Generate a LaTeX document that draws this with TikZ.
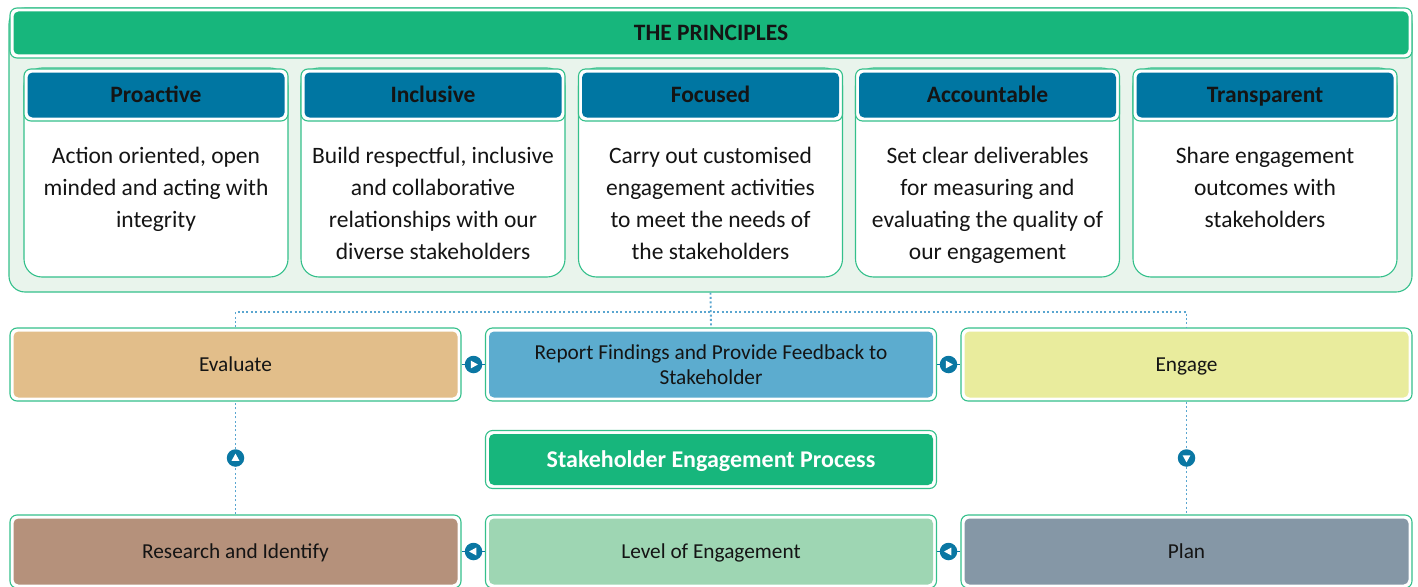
\documentclass[tikz,border=0pt]{standalone}
\usepackage{fontspec}
\setmainfont{Carlito}
\definecolor{edge}{HTML}{34C08B}
\definecolor{panelfill}{HTML}{E9F4EC}
\definecolor{headgreen}{HTML}{17B67C}
\definecolor{cardblue}{HTML}{0076A2}
\definecolor{markblue}{HTML}{0A77A3}
\definecolor{dotblue}{HTML}{5AA6D0}
\definecolor{evalfill}{HTML}{E2BE8A}
\definecolor{reportfill}{HTML}{5CACCF}
\definecolor{engagefill}{HTML}{E9EC9D}
\definecolor{researchfill}{HTML}{B5917B}
\definecolor{levelfill}{HTML}{9ED6B3}
\definecolor{planfill}{HTML}{8597A6}
\definecolor{ink}{HTML}{141414}
\begin{document}
\begin{tikzpicture}[x=1pt,y=-1pt,
  procbox/.style={draw=edge, line width=1.1pt, fill=white, rounded corners=7pt,
    inner sep=0pt, align=center, text=ink,
    path picture={\fill[#1, rounded corners=5pt]
      ([shift={(3.5pt,-3.5pt)}]path picture bounding box.north west) rectangle
      ([shift={(-3.5pt,3.5pt)}]path picture bounding box.south east);}},
  oneline/.style={text height=#1, text depth=0pt},
  card/.style={draw=edge, line width=1.1pt, fill=white, rounded corners=18pt,
    minimum width=264, minimum height=209, inner sep=0pt},
  cardhead/.style={procbox=cardblue, oneline=14.6pt, minimum width=264, minimum height=52,
    font=\bfseries\fontsize{23.5}{27}\selectfont},
  bodytext/.style={anchor=north, inner sep=0pt, align=center, text=ink,
    font=\fontsize{23.5}{32}\selectfont},
  rowbox/.style={procbox=#1, minimum width=451, minimum height=73,
    font=\fontsize{21.3}{25}\selectfont},
  flow/.style={circle, fill=markblue, minimum size=17.5pt, inner sep=0pt,
    path picture={\fill[white]
      ([shift={(#1:4.4pt)}]path picture bounding box.center) --
      ([shift={(#1+125:4.8pt)}]path picture bounding box.center) --
      ([shift={(#1-125:4.8pt)}]path picture bounding box.center) -- cycle;}},
  link/.style={draw=markblue, line width=0.8pt},
  dotlink/.style={draw=dotblue, line width=1.9pt, dash pattern=on 2pt off 2.4pt}]

\useasboundingbox (0,0) rectangle (1418,586);
\clip (0,0) rectangle (1418,586);

% principles panel with its title bar
\node (panel) [draw=edge, fill=panelfill, rounded corners=16pt, line width=1.1pt,
  minimum width=1403, minimum height=284, inner sep=0pt] at (710.5,150) {};
\node (title) [procbox=headgreen, oneline=14.6pt, minimum width=1402, minimum height=50,
  font=\bfseries\fontsize{23.5}{27}\selectfont] at (711,33) {THE PRINCIPLES};

% the five principle cards
\node (card1) [card] at (156,172.5) {};
\node (head1) [cardhead] at (156,95) {Proactive};
\node (body1) [bodytext] at (156,146.5) {Action oriented, open\\minded and acting with\\integrity};

\node (card2) [card] at (433,172.5) {};
\node (head2) [cardhead] at (433,95) {Inclusive};
\node (body2) [bodytext] at (433,146.5) {Build respectful, inclusive\\and collaborative\\relationships with our\\diverse stakeholders};

\node (card3) [card] at (710.5,172.5) {};
\node (head3) [cardhead] at (710.5,95) {Focused};
\node (body3) [bodytext] at (710.5,146.5) {Carry out customised\\engagement activities\\to meet the needs of\\the stakeholders};

\node (card4) [card] at (987.5,172.5) {};
\node (head4) [cardhead] at (987.5,95) {Accountable};
\node (body4) [bodytext] at (987.5,146.5) {Set clear deliverables\\for measuring and\\evaluating the quality of\\our engagement};

\node (card5) [card] at (1265,172.5) {};
\node (head5) [cardhead] at (1265,95) {Transparent};
\node (body5) [bodytext] at (1265,146.5) {Share engagement\\outcomes with\\stakeholders};

% process steps
\node (eval)     [rowbox=evalfill, oneline=13.4pt]     at (235.5,364.5) {Evaluate};
\node (report)   [rowbox=reportfill]                   at (711,364.5)   {Report Findings and Provide Feedback to\\Stakeholder};
\node (engage)   [rowbox=engagefill, oneline=13.4pt]   at (1186.5,364.5) {Engage};
\node (process)  [procbox=headgreen, oneline=15pt, minimum width=451, minimum height=58, text=white,
  font=\bfseries\fontsize{24}{28}\selectfont] at (711,459.5) {Stakeholder Engagement Process};
\node (research) [rowbox=researchfill, oneline=13.4pt] at (235.5,551.5) {Research and Identify};
\node (level)    [rowbox=levelfill, oneline=13.4pt]    at (711,551.5)   {Level of Engagement};
\node (plan)     [rowbox=planfill, oneline=13.4pt]     at (1186.5,551.5) {Plan};

% principles feed the top row
\coordinate (hub) at (711,312);
\draw[dotlink] (panel.south) -- (report.north);
\draw[dotlink] (eval.north) |- (hub) -| (engage.north);

% flow markers
\node (m1) [flow=0]   at (473.5,364.5) {};
\node (m2) [flow=0]   at (948.5,364.5) {};
\node (m3) [flow=-90] at (1186.5,458)  {};
\node (m4) [flow=180] at (948.5,551.5) {};
\node (m5) [flow=180] at (473.5,551.5) {};
\node (m6) [flow=90]  at (235.5,458)   {};

\draw[link] (eval.east) -- (m1) -- (report.west);
\draw[link] (report.east) -- (m2) -- (engage.west);
\draw[dotlink] (engage.south) -- (m3) -- (plan.north);
\draw[link] (plan.west) -- (m4) -- (level.east);
\draw[link] (level.west) -- (m5) -- (research.east);
\draw[dotlink] (research.north) -- (m6) -- (eval.south);
\end{tikzpicture}
\end{document}
